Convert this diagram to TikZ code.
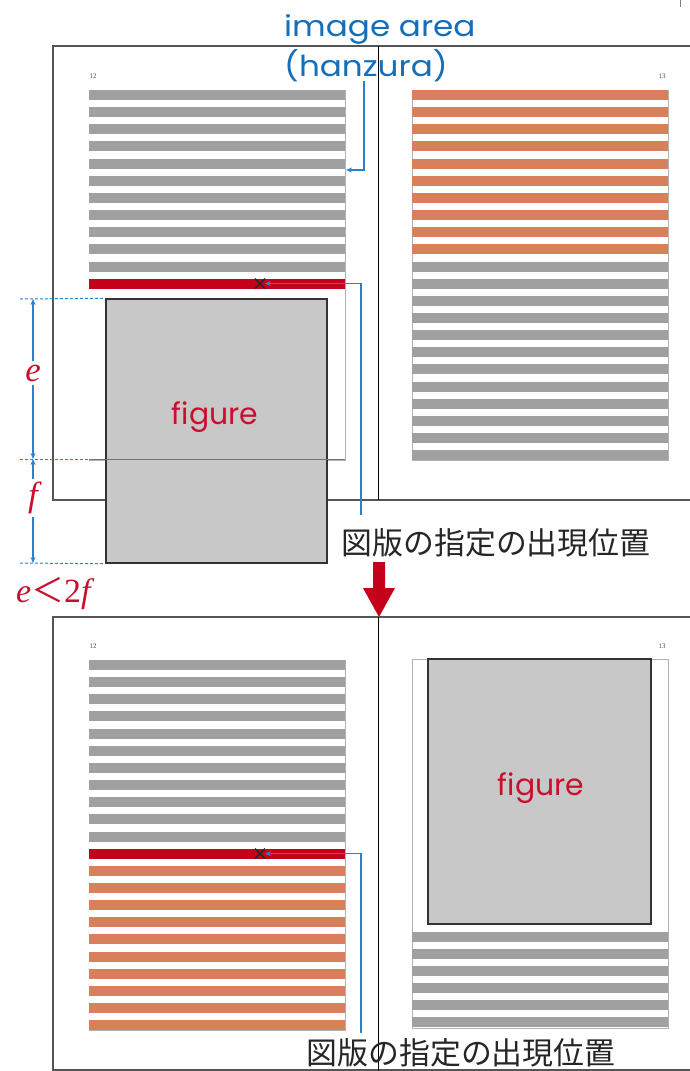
\documentclass[tikz,border=0pt]{standalone}
\usepackage{fontspec}
\usetikzlibrary{arrows.meta,calc}
\newfontfamily\labelfont{Poppins}
\newfontfamily\jpfont{Noto Sans CJK JP}
\newfontfamily\timesfont{Liberation Serif}
\definecolor{stripegray}{RGB}{160,160,160}
\definecolor{stripeorange}{RGB}{216,128,92}
\definecolor{redline}{RGB}{196,0,26}
\definecolor{bluetext}{RGB}{20,110,185}
\definecolor{blueline}{RGB}{40,130,210}
\definecolor{figgray}{RGB}{200,200,200}
\definecolor{labelred}{RGB}{200,16,46}
\definecolor{pagegray}{RGB}{85,85,85}
\tikzset{
  pageline/.style={draw=pagegray,line width=1.4bp},
  spine/.style={draw=black,line width=1bp},
  iaframe/.style={draw=black!30,line width=0.6bp},
  figbox/.style={fill=figgray,draw=black!80,line width=1.5bp},
  leader/.style={draw=blueline,line width=1.3bp,-{Stealth[length=6bp,width=5bp]}},
  dim/.style={draw=blueline,line width=1.2bp,-{Stealth[length=6bp,width=5bp]}},
  dimdash/.style={draw=blueline,line width=1bp,dash pattern=on 3bp off 2bp},
  pnum/.style={font=\timesfont\fontsize{7}{7}\selectfont,text=black!70,inner sep=0pt},
  jplabel/.style={font=\jpfont\fontsize{31}{34}\selectfont,text=black!85,inner sep=0pt},
  figlabel/.style={font=\labelfont\fontsize{30}{32}\selectfont,text=labelred},
  ialabel/.style={font=\labelfont\fontsize{29}{36}\selectfont,text=bluetext,inner sep=0pt,anchor=base west},
  varlabel/.style={font=\timesfont\itshape\fontsize{35}{38}\selectfont,text=labelred,inner sep=3bp,fill=white},
  xmark/.style={draw=black!85,line width=1.3bp}
}
\begin{document}
\begin{tikzpicture}[x=1bp,y=-1bp]
\useasboundingbox (0,0) rectangle (690,1071);
\fill[white] (0,0) rectangle (690,1071);
\draw[black!50,line width=0.8bp] (680,0) -- (680,7);

% ================= top spread =================
\draw[pageline] (690,46) -- (53,46) -- (53,500) -- (690,500);
\draw[spine] (378,46) -- (378,500);
% left page stripes
\draw[iaframe] (89,90) -- (345,90) -- (345,460) -- (89,460);
\foreach \k in {0,...,10} \fill[stripegray] (89,{90+17.15*\k}) rectangle (345,{100+17.15*\k});
\fill[redline] (89,278.65) rectangle (345,288.65);
% right page stripes
\draw[iaframe] (412,90) rectangle (668,460);
\foreach \k in {0,...,9} \fill[stripeorange] (412,{90+17.15*\k}) rectangle (668,{100+17.15*\k});
\foreach \k in {10,...,21} \fill[stripegray] (412,{90+17.15*\k}) rectangle (668,{100+17.15*\k});
% page numbers
\node[pnum] (pn12a) at (93,76) {12};
\node[pnum] (pn13a) at (662,76) {13};
% image area label
\node[ialabel] (ialabel1) at (284,36) {\scalebox{1.13}[1]{image area}};
\node[ialabel] (ialabel2) at (284,76) {\scalebox{1.13}[1]{(hanzura)}};
\coordinate (iastart) at (364,81);
\coordinate (iatip) at (346,170);
\draw[leader] (iastart) |- (iatip);
% figure
\node[figbox,minimum width=221bp,minimum height=264bp,inner sep=0pt] (figA) at (216.5,431) {};
\node[figlabel] (figAtext) at (215,417) {figure};
\draw[black!55,line width=0.8bp] (89,459.5) -- (345,459.5);
% insertion mark
\coordinate (xA) at (260,283.6);
\draw[xmark] ($(xA)+(-5,-5)$) -- ($(xA)+(5,5)$) ($(xA)+(-5,5)$) -- ($(xA)+(5,-5)$);
\node[jplabel] (jpA) at (496,543) {図版の指定の出現位置};
\coordinate (jpAstart) at (361,515);
\coordinate (xAtip) at (265,283.6);
\draw[leader] (jpAstart) |- (xAtip);
% dimensions
\coordinate (dTop) at (33,299);
\coordinate (dMid) at (33,459);
\coordinate (dBot) at (33,563);
\draw[dimdash] (20,299) -- (figA.north west);
\draw[dimdash] (20,459) -- (89,459);
\draw[dimdash] (20,563) -- (figA.south west);
\node[varlabel] (elab) at (33,373) {e};
\node[varlabel] (flab) at (33,498) {f};
\draw[dim] (elab) -- (dTop);
\draw[dim] (elab) -- (dMid);
\draw[dim] (flab) -- (dMid);
\draw[dim] (flab) -- (dBot);
\node[font=\timesfont\fontsize{34}{36}\selectfont,text=labelred,inner sep=0pt,anchor=base west] (ineq) at (16,602) {\itshape e{\jpfont\upshape\fontsize{33}{36}\selectfont ＜}\upshape 2\itshape f};

% red arrow
\fill[redline] (373,562) -- (385,562) -- (385,588) -- (395,588) -- (379,617) -- (363,588) -- (373,588) -- cycle;

% ================= bottom spread =================
\draw[pageline] (690,617) -- (53,617) -- (53,1070) -- (690,1070);
\draw[spine] (378,617) -- (378,1071);
\draw[iaframe] (89,660) -- (345,660) -- (345,1030) -- (89,1030);
\foreach \k in {0,...,10} \fill[stripegray] (89,{660+17.15*\k}) rectangle (345,{670+17.15*\k});
\foreach \k in {12,...,21} \fill[stripeorange] (89,{660+17.15*\k}) rectangle (345,{670+17.15*\k});
\fill[redline] (89,848.65) rectangle (345,858.65);
\draw[iaframe] (412,659) rectangle (668,1028);
\foreach \k in {16,...,21} \fill[stripegray] (412,{658+17.1*\k}) rectangle (668,{668+17.1*\k});
\node[figbox,minimum width=223bp,minimum height=265bp,inner sep=0pt] (figB) at (539.5,791.5) {};
\node[figlabel] (figBtext) at (541,788) {figure};
\node[pnum] (pn12b) at (93,646) {12};
\node[pnum] (pn13b) at (662,646) {13};
\coordinate (xB) at (260,853.6);
\draw[xmark] ($(xB)+(-5,-5)$) -- ($(xB)+(5,5)$) ($(xB)+(-5,5)$) -- ($(xB)+(5,-5)$);
\node[jplabel] (jpB) at (461,1053) {図版の指定の出現位置};
\coordinate (jpBstart) at (361,1033);
\coordinate (xBtip) at (265,853.6);
\draw[leader] (jpBstart) |- (xBtip);
\end{tikzpicture}
\end{document}
